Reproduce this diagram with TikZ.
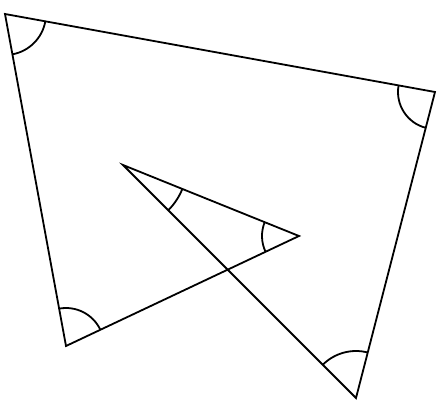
\documentclass[tikz,border=0pt]{standalone}
\usetikzlibrary{angles}
\begin{document}
\begin{tikzpicture}[x=1pt,y=-1pt,
  edge/.style={line width=1.8pt,line join=miter},
  arcmark/.style={draw,line width=1.8pt}]
\useasboundingbox (0,0) rectangle (440,413);
\coordinate (A) at (5,14);
\coordinate (B) at (435,92);
\coordinate (C) at (356,398);
\coordinate (D) at (123,165);
\coordinate (E) at (299,236);
\coordinate (F) at (66,346);
\draw[edge] (A) -- (B) -- (C) -- (D) -- (E) -- (F) -- cycle;
\pic[arcmark,angle radius=41pt] {angle=F--A--B};
\pic[arcmark,angle radius=37pt] {angle=A--B--C};
\pic[arcmark,angle radius=47pt] {angle=B--C--D};
\pic[arcmark,angle radius=64pt] {angle=C--D--E};
\pic[arcmark,angle radius=37pt] {angle=D--E--F};
\pic[arcmark,angle radius=38pt] {angle=E--F--A};
\end{tikzpicture}
\end{document}
